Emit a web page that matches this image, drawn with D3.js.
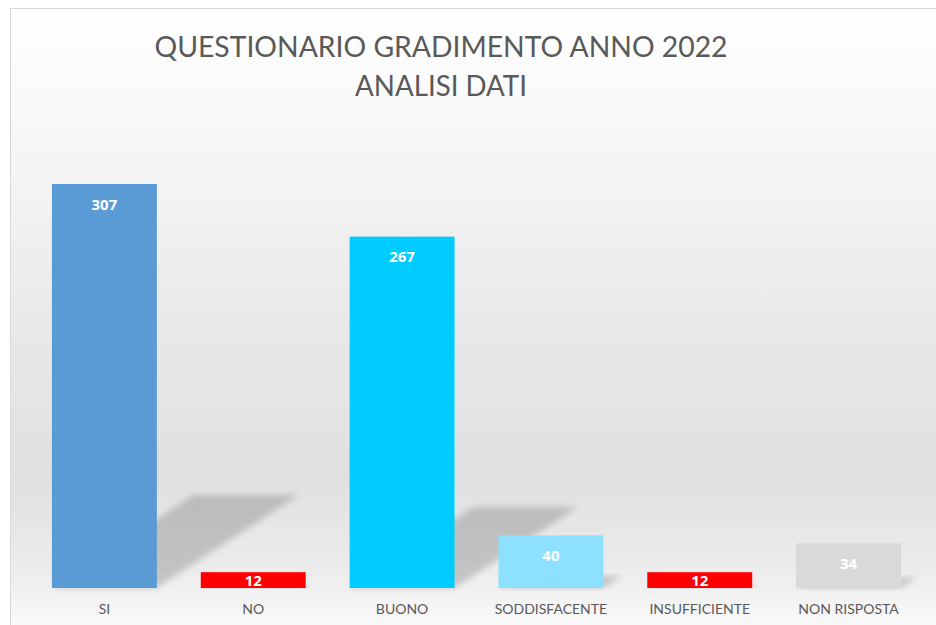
<!DOCTYPE html>
<html>
<head>
<meta charset="utf-8">
<script src="https://cdn.jsdelivr.net/npm/d3@7"></script>
<style>
    body { margin: 0; background: #fff; }
    #chart { width: 936px; height: 625px; }
</style>
</head>
<body>
<div id="chart"></div>
<script>
// questionnaire answers
const categories = ["SI", "NO", "BUONO", "SODDISFACENTE", "INSUFFICIENTE", "NON RISPOSTA"];
const counts = [307, 12, 267, 40, 12, 34];
const barColors = ["#5B9BD5", "#FF0000", "#00CCFF", "#8DE1FF", "#FF0000", "#D9D9D9"];
const titleLines = ["QUESTIONARIO GRADIMENTO ANNO 2022", "ANALISI DATI"];

const width = 936, height = 625;

const svg = d3.select("#chart").append("svg")
    .attr("width", width)
    .attr("height", height);

const defs = svg.append("defs");

// background gradient of the chart area
const grad = defs.append("linearGradient")
    .attr("id", "bg")
    .attr("x1", 0).attr("y1", 0).attr("x2", 0).attr("y2", 1);
grad.append("stop").attr("offset", "0%").attr("stop-color", "#ffffff");
grad.append("stop").attr("offset", "20%").attr("stop-color", "#f7f7f7");
grad.append("stop").attr("offset", "50%").attr("stop-color", "#e9e9e9");
grad.append("stop").attr("offset", "75%").attr("stop-color", "#e0e0e0");
grad.append("stop").attr("offset", "90%").attr("stop-color", "#ececec");
grad.append("stop").attr("offset", "100%").attr("stop-color", "#fbfbfb");

defs.append("filter")
    .attr("id", "blur")
    .attr("x", "-20%").attr("y", "-20%").attr("width", "140%").attr("height", "140%")
    .append("feGaussianBlur").attr("stdDeviation", 3);

svg.append("rect")
    .attr("x", 10.5).attr("y", 8.5)
    .attr("width", width).attr("height", height)
    .attr("fill", "url(#bg)")
    .attr("stroke", "#d9d9d9");

// title
svg.selectAll(".title")
    .data(titleLines)
    .enter().append("text")
    .attr("class", "title")
    .attr("x", 441)
    .attr("y", (d, i) => 57 + i * 39)
    .attr("text-anchor", "middle")
    .attr("font-family", "'Liberation Sans Narrow', Lato, sans-serif")
    .attr("font-size", "29px")
    .attr("fill", "#595959")
    .attr("textLength", (d, i) => i === 0 ? 573 : 172)
    .attr("lengthAdjust", "spacingAndGlyphs")
    .text(d => d);

// scales
const x = d3.scaleBand()
    .domain(categories)
    .range([30, 923])
    .paddingInner(0.295)
    .paddingOuter(0.1475);

const y = d3.scaleLinear()
    .domain([0, 307])
    .range([588, 184]);

const data = categories.map((c, i) => ({cat: c, value: counts[i], color: barColors[i]}));

// perspective shadows behind the bars
svg.append("g")
    .selectAll("polygon")
    .data(data)
    .enter().append("polygon")
    .attr("points", d => {
        let x0 = x(d.cat), x1 = x0 + x.bandwidth();
        let h = y(0) - y(d.value);
        let dx = h * 0.35, dy = h * 0.23;
        return [[x0, y(0)], [x1, y(0)], [x1 + dx, y(0) - dy], [x0 + dx, y(0) - dy]].join(" ");
    })
    .attr("fill", "#000")
    .attr("opacity", 0.17)
    .attr("filter", "url(#blur)");

// bars
svg.append("g")
    .selectAll("rect")
    .data(data)
    .enter().append("rect")
    .attr("x", d => x(d.cat))
    .attr("y", d => y(d.value))
    .attr("width", x.bandwidth())
    .attr("height", d => y(0) - y(d.value))
    .attr("fill", d => d.color);

// value labels
svg.append("g")
    .selectAll("text")
    .data(data)
    .enter().append("text")
    .attr("x", d => x(d.cat) + x.bandwidth() / 2)
    .attr("y", d => Math.min(y(d.value) + 20, (y(d.value) + y(0)) / 2) + 5.5)
    .attr("text-anchor", "middle")
    .attr("font-family", "'Open Sans', sans-serif")
    .attr("font-weight", "bold")
    .attr("font-size", "15px")
    .attr("fill", "#fff")
    .text(d => d.value);

// category axis labels
svg.append("g")
    .selectAll("text")
    .data(categories)
    .enter().append("text")
    .attr("x", d => x(d) + x.bandwidth() / 2)
    .attr("y", 614)
    .attr("text-anchor", "middle")
    .attr("font-family", "Lato, sans-serif")
    .attr("font-size", "14px")
    .attr("fill", "#595959")
    .text(d => d);
</script>
</body>
</html>
